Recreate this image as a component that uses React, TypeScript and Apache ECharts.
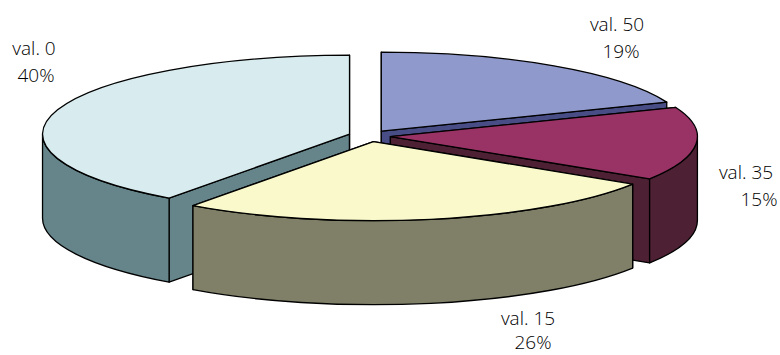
import React, { useEffect, useRef } from "react";
import * as echarts from "echarts";

// Slices, painted back to front.
const sliceNames = ["val. 0", "val. 50", "val. 35", "val. 15"];
const sliceShares = [40, 19, 15, 26];
const topColors = ["#d8ebee", "#9099cc", "#993366", "#f9f9cc"];
const wallColors = ["#65858a", "#484d85", "#4d2033", "#808068"];

// Centre of each caption line: [name x, name y, share x, share y].
const captionAnchors = [
  [34, 48, 36, 75],
  [617, 24, 621, 51],
  [746, 172, 759, 199],
  [528, 318, 533, 342],
];

const WIDTH = 780;
const HEIGHT = 355;
const CENTER_X = 369.5;
const CENTER_Y = 136;
const RADIUS_X = 307;
const RADIUS_Y = 79;
const DEPTH = 84;
const EXPLODE_X = 21;
const EXPLODE_Y = 5.8;
const START_ANGLE = -144;
const TOTAL = sliceShares.reduce((sum, v) => sum + v, 0);

const toRad = (deg: number) => (deg * Math.PI) / 180;
const fmt = (n: number) => n.toFixed(2);

// Angles run clockwise from twelve o'clock.
function renderSlice(params: any, api: any) {
  const i = params.dataIndex;
  const before = sliceShares.slice(0, i).reduce((sum, v) => sum + v, 0);
  const a0 = START_ANGLE + (before / TOTAL) * 360;
  const a1 = a0 + (api.value(0) / TOTAL) * 360;
  const mid = toRad((a0 + a1) / 2);
  const ox = CENTER_X + EXPLODE_X * Math.sin(mid);
  const oy = CENTER_Y - EXPLODE_Y * Math.cos(mid);
  const rim = (deg: number, drop = 0) => [
    ox + RADIUS_X * Math.sin(toRad(deg)),
    oy - RADIUS_Y * Math.cos(toRad(deg)) + drop,
  ];
  const arc = (toDeg: number, span: number, sweep: number, drop = 0) => {
    const [x, y] = rim(toDeg, drop);
    return `A${RADIUS_X} ${RADIUS_Y} 0 ${Math.abs(span) > 180 ? 1 : 0} ${sweep} ${fmt(x)} ${fmt(y)}`;
  };
  const lineStyle = { stroke: "#000", lineWidth: 1.3, lineJoin: "round" };
  const face = (d: string, fill: string) => ({
    type: "path",
    shape: { pathData: d },
    style: { fill, ...lineStyle },
  });

  const children: any[] = [];
  const [sx, sy] = rim(a0);
  const [ex, ey] = rim(a1);

  // Radial cut faces.
  for (const [px, py] of [[sx, sy], [ex, ey]]) {
    children.push(
      face(
        `M${fmt(ox)} ${fmt(oy)}L${fmt(px)} ${fmt(py)}L${fmt(px)} ${fmt(py + DEPTH)}L${fmt(ox)} ${fmt(oy + DEPTH)}Z`,
        wallColors[i],
      ),
    );
  }

  // Outer rim, only where it faces the viewer.
  const from = Math.max(a0, 90);
  const to = Math.min(a1, 270);
  const fromBehind = Math.max(a0 + 360, 90);
  const toBehind = Math.min(a1 + 360, 270);
  const rimSpans: number[][] = [];
  if (to > from) rimSpans.push([from, to]);
  if (toBehind > fromBehind) rimSpans.push([fromBehind, toBehind]);
  for (const [f, t] of rimSpans) {
    const [fx, fy] = rim(f);
    const [tx, ty] = rim(t, DEPTH);
    children.push(
      face(
        `M${fmt(fx)} ${fmt(fy)}${arc(t, t - f, 1)}L${fmt(tx)} ${fmt(ty)}${arc(f, t - f, 0, DEPTH)}Z`,
        wallColors[i],
      ),
    );
  }

  // Top face.
  children.push(
    face(
      `M${fmt(ox)} ${fmt(oy)}L${fmt(sx)} ${fmt(sy)}${arc(a1, a1 - a0, 1)}Z`,
      topColors[i],
    ),
  );

  // Caption, two separately placed lines.
  const [nx, ny, vx, vy] = captionAnchors[i];
  const caption = (text: string, x: number, y: number) => ({
    type: "text",
    z2: 100,
    style: {
      text,
      x,
      y,
      fill: "#000",
      font: '300 19px "Open Sans", sans-serif',
      textAlign: "center",
      textVerticalAlign: "middle",
    },
  });
  children.push(caption(sliceNames[i], nx, ny));
  children.push(caption(`${api.value(0)}%`, vx, vy));

  return { type: "group", children };
}

export default function App() {
  const ref = useRef<HTMLDivElement>(null);

  useEffect(() => {
    document.body.style.margin = "0";
    const chart = echarts.init(ref.current!, undefined, { renderer: "svg" });
    chart.setOption({
      animation: false,
      backgroundColor: "#fff",
      series: [
        {
          type: "custom",
          coordinateSystem: "none",
          silent: true,
          data: sliceShares.map((v) => [v]),
          renderItem: renderSlice,
        },
      ],
    });
    return () => chart.dispose();
  }, []);

  return <div ref={ref} style={{ width: WIDTH, height: HEIGHT }} />;
}
